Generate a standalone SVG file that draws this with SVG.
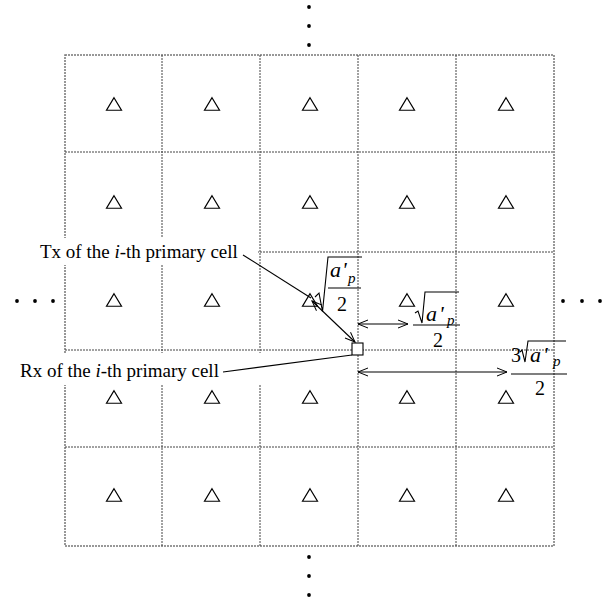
<svg xmlns="http://www.w3.org/2000/svg" width="602" height="600" viewBox="0 0 602 600">
<style>
.grid{stroke:#444;stroke-width:1;stroke-dasharray:2 1;fill:none}
.border{stroke:#777;stroke-width:1.5;stroke-dasharray:2 1;fill:none}
.tri{fill:none;stroke:#000;stroke-width:1.2}
.dot{fill:#000}
.bg{fill:#fff;stroke:none}
.lbl{font-family:"Liberation Serif","Times New Roman",serif;font-size:19px;fill:#000}
.m{font-family:"Liberation Serif","Times New Roman",serif;font-size:20px;fill:#000}
.a{font-family:"Liberation Serif","Times New Roman",serif;font-size:22px;font-style:italic;fill:#000}
.sub{font-family:"Liberation Serif","Times New Roman",serif;font-size:15px;font-style:italic;fill:#000}
.it{font-style:italic}
.ln{stroke:#000;stroke-width:1.1;fill:none}
.rad{stroke:#000;stroke-width:1.1;fill:none}
</style>
<defs>
<marker id="ah" markerUnits="userSpaceOnUse" markerWidth="12" markerHeight="10" refX="10" refY="5" orient="auto-start-reverse" viewBox="0 0 12 10"><path d="M0,1 L10,5 L0,9" fill="none" stroke="#000" stroke-width="1"/></marker>
<polygon id="t" class="tri" points="0,-6.25 7.5,6.25 -7.5,6.25"/>
</defs>
<g id="grid">
<rect class="border" x="65" y="55" width="489" height="491"/>
<line class="grid" x1="162" y1="55" x2="162" y2="546"/>
<line class="grid" x1="260" y1="55" x2="260" y2="546"/>
<line class="grid" x1="358" y1="55" x2="358" y2="546"/>
<line class="grid" x1="456" y1="55" x2="456" y2="546"/>
<line class="grid" x1="65" y1="152" x2="554" y2="152"/>
<line class="grid" x1="65" y1="252" x2="554" y2="252"/>
<line class="grid" x1="65" y1="350" x2="554" y2="350"/>
<line class="grid" x1="65" y1="447" x2="554" y2="447"/>
</g>
<g id="dots">
<circle class="dot" cx="309" cy="7" r="1.9"/><circle class="dot" cx="309" cy="26" r="1.9"/><circle class="dot" cx="309" cy="45" r="1.9"/>
<circle class="dot" cx="309" cy="557" r="1.9"/><circle class="dot" cx="309" cy="576" r="1.9"/><circle class="dot" cx="309" cy="595" r="1.9"/>
<circle class="dot" cx="17" cy="301" r="1.9"/><circle class="dot" cx="35" cy="301" r="1.9"/><circle class="dot" cx="53" cy="301" r="1.9"/>
<circle class="dot" cx="563" cy="301" r="1.9"/><circle class="dot" cx="582" cy="301" r="1.9"/><circle class="dot" cx="600" cy="301" r="1.9"/>
</g>
<g id="tx-r1"><use href="#t" x="114" y="104"/><use href="#t" x="212" y="104"/><use href="#t" x="310" y="104"/><use href="#t" x="407" y="104"/><use href="#t" x="506" y="104"/></g>
<g id="tx-r2"><use href="#t" x="114" y="202"/><use href="#t" x="212" y="202"/><use href="#t" x="310" y="202"/><use href="#t" x="407" y="202"/><use href="#t" x="506" y="202"/></g>
<g id="tx-r3"><use href="#t" x="114" y="300"/><use href="#t" x="212" y="300"/><use href="#t" x="506" y="300"/><use href="#t" x="407" y="300"/></g>
<g id="tx-i"><use href="#t" x="310" y="300"/></g>
<g id="tx-r4"><use href="#t" x="114" y="397"/><use href="#t" x="212" y="397"/><use href="#t" x="310" y="397"/><use href="#t" x="407" y="397"/><use href="#t" x="506" y="397"/></g>
<g id="tx-r5"><use href="#t" x="114" y="495"/><use href="#t" x="212" y="495"/><use href="#t" x="310" y="495"/><use href="#t" x="407" y="495"/><use href="#t" x="506" y="495"/></g>
<g id="rx-i"><rect x="352" y="343" width="11" height="12" fill="#fff" stroke="#000" stroke-width="1.1"/></g>
<g id="labels">
<rect class="bg" x="35" y="238" width="223" height="27"/>
<text class="lbl" x="40" y="258">Tx of the <tspan class="it">i</tspan>-th primary cell</text>
<rect class="bg" x="15" y="353" width="248" height="32"/>
<text class="lbl" x="20" y="377">Rx of the <tspan class="it">i</tspan>-th primary cell</text>
</g>
<g id="connectors">
<line class="ln" x1="243" y1="255" x2="311" y2="298"/>
<line class="ln" x1="223" y1="372" x2="352" y2="355"/>
<line class="ln" x1="312" y1="301" x2="355" y2="342" marker-start="url(#ah)" marker-end="url(#ah)"/>
<line class="ln" x1="358" y1="324" x2="408" y2="324" marker-start="url(#ah)" marker-end="url(#ah)"/>
<line class="ln" x1="358" y1="372" x2="507" y2="372" marker-start="url(#ah)" marker-end="url(#ah)"/>
</g>
<g id="frac1">
<path class="rad" d="M315,297 L319,293 L322.5,311.5 L328,257 L362,257"/>
<text class="a" x="330" y="277">a</text><text class="a" x="342" y="277">'</text><text class="sub" x="348" y="283">p</text>
<line class="rad" x1="328" y1="288" x2="361" y2="288"/>
<text class="m" x="342" y="311" text-anchor="middle">2</text>
</g>
<g id="frac2">
<path class="rad" d="M415,313 L418,311 L422,323 L425,292 L459,292"/>
<text class="a" x="426" y="321">a</text><text class="a" x="439" y="321">'</text><text class="sub" x="447" y="325">p</text>
<line class="rad" x1="413" y1="325" x2="460" y2="325"/>
<text class="m" x="438" y="347" text-anchor="middle">2</text>
</g>
<g id="frac3">
<text class="m" x="511" y="362">3</text>
<path class="rad" d="M520,352 L522,350 L525,362 L528,341 L566,341"/>
<text class="a" x="530" y="362">a</text><text class="a" x="543" y="362">'</text><text class="sub" x="553" y="366">p</text>
<line class="rad" x1="511" y1="374" x2="567" y2="374"/>
<text class="m" x="540" y="395" text-anchor="middle">2</text>
</g>
</svg>
